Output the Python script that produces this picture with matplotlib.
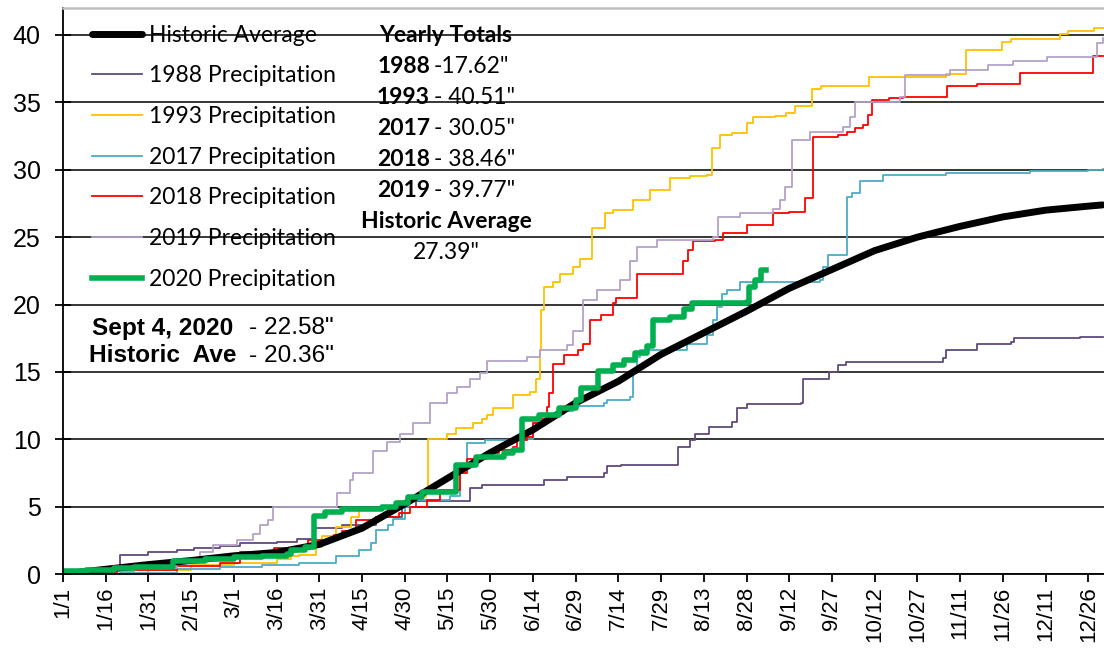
import numpy as np
import matplotlib
matplotlib.use("Agg")
import matplotlib.pyplot as plt

# day of year (0 = 1/1) and cumulative precipitation (inches)
hist_day = [0, 15, 30, 45, 60, 75, 90, 105, 120, 135, 150, 165, 180, 195, 210,
            225, 240, 255, 270, 285, 300, 315, 330, 345, 360, 365]
hist_val = [0, 0.35, 0.7, 1.0, 1.35, 1.6, 2.2, 3.4, 5.2, 7.1, 9.0, 10.7, 12.7,
            14.3, 16.3, 17.9, 19.5, 21.2, 22.6, 24.0, 25.0, 25.8, 26.5, 27.0,
            27.3, 27.39]

y1988_day = [0, 19, 20, 30, 40, 46, 55, 62, 75, 82, 88, 98, 108, 110, 119, 124,
             143, 147, 169, 177, 190, 191, 196, 216, 220, 222, 227, 235, 236.5,
             240, 259, 260, 269, 272, 275, 309, 310, 321, 333, 334, 357, 365]
y1988_val = [0, 0.2, 1.4, 1.65, 1.75, 1.9, 2.1, 2.3, 2.4, 2.6, 3.4, 3.6, 3.6,
             4.2, 5.0, 5.4, 6.4, 6.6, 7.0, 7.2, 7.5, 8.0, 8.1, 9.4, 9.95, 10.4,
             10.9, 11.3, 12.3, 12.6, 12.7, 14.5, 15.0, 15.5, 15.7, 16.0, 16.6,
             17.1, 17.2, 17.5, 17.62, 17.62]

y1993_day = [0, 20, 30, 45, 60, 75, 80, 83, 89, 91, 96, 101, 104, 112, 118, 122,
             127.5, 128.3, 134.7, 138, 144, 147, 149, 151, 158, 164, 166, 167.5,
             168, 169, 172, 174.5, 179, 181.5, 185.6, 190.3, 193, 200, 206, 213,
             220, 226, 228, 230.7, 235, 240, 242.4, 250, 254, 257, 263, 266, 283,
             310, 317, 329.6, 333, 350, 353, 362, 365]
y1993_val = [0, 0.05, 0.3, 0.67, 0.8, 1.1, 1.3, 1.4, 2.0, 2.8, 3.5, 4.25, 4.75,
             5.0, 5.4, 5.7, 6.2, 10.05, 10.4, 10.8, 11.2, 11.5, 11.8, 12.3, 13.3,
             13.5, 14.5, 16.6, 19.6, 21.3, 21.7, 22.3, 22.8, 23.4, 25.65, 26.8,
             27.0, 27.75, 28.5, 29.4, 29.5, 29.6, 31.6, 32.6, 32.75, 33.45, 33.9,
             34.0, 34.2, 34.7, 36.0, 36.2, 36.9, 37.1, 38.9, 39.5, 39.7, 40.1,
             40.3, 40.51, 40.51]

y2017_day = [0, 20, 40, 55, 70, 83, 96, 104, 108, 110, 114, 116, 120, 121.5,
             136, 139.4, 141.7, 148, 163, 165, 170, 172, 176, 179, 190, 191, 199,
             200, 201.4, 202.6, 219, 226, 228.3, 229.5, 231.3, 233, 237.7, 265.8,
             267, 268.7, 275.2, 277, 279.8, 288, 310, 339.5, 360, 365]
y2017_val = [0, 0.1, 0.4, 0.55, 0.7, 0.8, 1.3, 1.8, 2.3, 3.3, 3.6, 4.1, 5.0, 5.5,
             5.8, 8.2, 9.7, 9.95, 10.0, 11.2, 11.4, 11.9, 12.1, 12.5, 12.7, 12.9,
             13.15, 14.9, 16.1, 16.6, 17.1, 17.7, 18.85, 19.8, 20.8, 21.1, 21.7,
             21.8, 22.8, 23.7, 28.0, 28.25, 29.2, 29.6, 29.75, 29.9, 30.0, 30.05]

y2018_day = [0, 15, 19, 25, 40, 55, 62, 74, 86, 95, 98, 103, 110, 118, 121.8,
             127.7, 132.4, 139.4, 141.7, 148.8, 153, 158.1, 159.3, 163, 165.1,
             168, 169.8, 170.5, 172.2, 176, 181, 182.7, 185, 189, 193.2, 194,
             201.4, 217.8, 219.6, 221.3, 229, 231.8, 240, 249.4, 255, 260.5,
             263.5, 272, 275.2, 278, 281, 282.8, 283.9, 290, 295, 310.3, 320.8,
             336, 361.8, 365]
y2018_val = [0, 0.1, 0.25, 0.3, 0.6, 0.8, 1.65, 1.9, 2.5, 2.9, 3.2, 4.0, 4.25,
             4.5, 5.0, 5.5, 6.2, 7.5, 8.5, 8.95, 9.2, 9.45, 9.95, 10.2, 11.2,
             11.5, 12.4, 13.4, 15.6, 16.25, 16.6, 17.1, 18.85, 19.2, 20.1, 20.5,
             22.3, 23.2, 24.05, 24.7, 24.8, 25.3, 25.9, 26.8, 26.9, 27.9, 32.45,
             32.6, 32.8, 33.1, 33.3, 34.1, 35.2, 35.3, 35.4, 36.2, 36.4, 37.2,
             38.46, 38.46]

y2019_day = [0, 10, 25, 40, 48, 52.8, 61, 66.8, 69.2, 72, 73.8, 96, 96.1, 100.8,
             101.9, 109, 113.7, 118.3, 123, 128.9, 134.7, 138.2, 142.9, 146.4,
             148.8, 162.8, 167.5, 176.9, 179.2, 182.7, 187.4, 195.6, 199.1, 201.4,
             208.5, 228.3, 230.1, 237.7, 249.4, 251.8, 253.5, 255.9, 262.3, 274,
             276.3, 278.1, 293.9, 295.6, 311.4, 324.9, 333.7, 345.4, 363, 365]
y2019_val = [0, 0.2, 0.45, 0.9, 1.6, 2.15, 2.5, 3.0, 3.6, 4.0, 5.0, 5.0, 6.0,
             7.0, 7.5, 9.1, 9.8, 10.4, 11.2, 12.7, 13.4, 13.9, 14.5, 14.9, 15.8,
             16.1, 16.6, 17.0, 18.0, 20.3, 21.1, 21.8, 23.2, 24.3, 24.8, 25.0,
             26.5, 26.8, 27.1, 27.75, 28.7, 32.2, 32.8, 33.2, 33.9, 35.05, 35.4,
             37.0, 37.4, 37.8, 38.1, 38.4, 39.4, 39.77]

y2020_day = [0, 8, 18, 25, 38.7, 50, 60, 70, 78.6, 80, 85, 88, 92, 98, 112, 117,
             121, 126, 138, 145, 155, 158, 161, 167, 174, 180, 182, 188, 193, 197,
             201, 205, 207, 213, 218, 221, 240, 241, 243, 245, 247]
y2020_val = [0.2, 0.3, 0.45, 0.55, 0.95, 1.1, 1.25, 1.35, 1.5, 1.8, 2.0, 4.3,
             4.6, 4.8, 4.95, 5.3, 5.7, 6.1, 8.1, 8.7, 9.0, 9.2, 11.5, 11.8, 12.3,
             12.9, 13.8, 15.1, 15.5, 15.9, 16.4, 16.9, 18.85, 19.1, 19.7, 20.1,
             20.2, 21.3, 21.8, 22.58, 22.58]

tick_labels = ['1/1', '1/16', '1/31', '2/15', '3/1', '3/16', '3/31', '4/15',
               '4/30', '5/15', '5/30', '6/14', '6/29', '7/14', '7/29', '8/13',
               '8/28', '9/12', '9/27', '10/12', '10/27', '11/11', '11/26',
               '12/11', '12/26']

totals_years = ['1988', '1993', '2017', '2018', '2019']
totals_vals = ['-17.62"', '- 40.51"', '- 30.05"', '- 38.46"', '- 39.77"']

fig = plt.figure(figsize=(11.04, 6.52), dpi=100)
ax = fig.add_axes([63 / 1104, 1 - 574 / 652, 1 - 63 / 1104, (574 - 8) / 652])

thin = 1.3
l88, = ax.plot(y1988_day, y1988_val, drawstyle='steps-post', color='#604A7B', lw=thin, label='1988 Precipitation')
l93, = ax.plot(y1993_day, y1993_val, drawstyle='steps-post', color='#FFC000', lw=thin, label='1993 Precipitation')
l17, = ax.plot(y2017_day, y2017_val, drawstyle='steps-post', color='#4BACC6', lw=thin, label='2017 Precipitation')
l18, = ax.plot(y2018_day, y2018_val, drawstyle='steps-post', color='#FF0000', lw=thin, label='2018 Precipitation')
l19, = ax.plot(y2019_day, y2019_val, drawstyle='steps-post', color='#B3A2C7', lw=thin, label='2019 Precipitation')
lh, = ax.plot(hist_day, hist_val, color='black', lw=5, solid_capstyle='round', label='Historic Average')
l20, = ax.plot(y2020_day, y2020_val, drawstyle='steps-post', color='#00B050', lw=4, label='2020 Precipitation')

ax.set_xlim(0, (1104 - 63) / 2.848)
ax.set_ylim(0, (574 - 8) / 13.475)

ax.set_xticks(np.arange(0, 361, 15))
ax.set_xticklabels(tick_labels, rotation=90, fontsize=16, family='Liberation Sans')
ax.set_yticks(np.arange(0, 41, 5))
ax.set_yticklabels([str(v) for v in range(0, 41, 5)], fontsize=18, family='Liberation Sans')
ax.tick_params(axis='x', direction='out', length=6, width=1.3, pad=3)
ax.tick_params(axis='y', direction='inout', length=12, width=1.3, pad=10)
ax.yaxis.grid(True, color='black', lw=1.1)
ax.set_axisbelow(True)

ax.spines['right'].set_visible(False)
ax.spines['top'].set_color('#bfbfbf')
ax.spines['top'].set_linewidth(1.8)
ax.spines['left'].set_linewidth(1.3)
ax.spines['bottom'].set_linewidth(1.3)

leg = ax.legend(handles=[lh, l88, l93, l17, l18, l19, l20], loc='upper left',
                bbox_to_anchor=(13 / 1041, 0.999), frameon=False,
                prop={'family': 'Lato', 'size': 16.5}, handlelength=2.18,
                handletextpad=0.3, labelspacing=0.86, borderaxespad=0.3)


def px(x, y):
    # pixel position in the figure -> data coordinates
    return (x - 63) / 2.848, (574 - y) / 13.475


# yearly totals block
tf = {'family': 'Lato', 'size': 16.5}
ax.text(*px(446, 35), 'Yearly Totals', ha='center', va='center', weight='bold', **tf)
for i, (yr, val) in enumerate(zip(totals_years, totals_vals)):
    ypix = 66.7 + i * 30.9
    ax.text(*px(430, ypix), yr, ha='right', va='center', weight='bold', **tf)
    ax.text(*px(434, ypix), val, ha='left', va='center', **tf)
ax.text(*px(446, 221), 'Historic Average', ha='center', va='center', weight='bold', **tf)
ax.text(*px(446, 253), '27.39"', ha='center', va='center', **tf)

af = {'family': 'Liberation Sans', 'size': 17.6}
ax.text(*px(92, 328), 'Sept 4, 2020', ha='left', va='center', weight='bold', **af)
ax.text(*px(334, 328), '- 22.58"', ha='right', va='center', **af)
ax.text(*px(89, 356), 'Historic  Ave', ha='left', va='center', weight='bold', **af)
ax.text(*px(334, 356), '- 20.36"', ha='right', va='center', **af)

fig.savefig('out.png', dpi=100)
